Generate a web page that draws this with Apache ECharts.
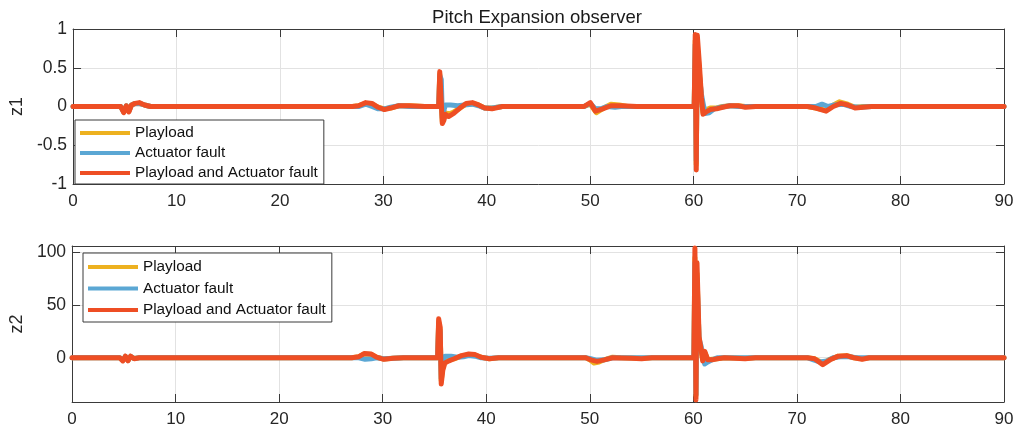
<!DOCTYPE html>
<html>
<head>
<meta charset="utf-8">
<script src="https://cdn.jsdelivr.net/npm/echarts@6/dist/echarts.min.js"></script>
<style>
  html, body { margin: 0; padding: 0; background: #fff; }
  #chart { width: 1017px; height: 429px; }
</style>
</head>
<body>
<div id="chart"></div>
<script>
// Pitch expansion observer outputs z1 and z2 under three fault scenarios
const seriesNames = ['Playload', 'Actuator fault', 'Playload and Actuator fault'];
const seriesColors = ['#EDB120', '#5BA7D4', '#EE4E24'];
const timeRange = [0, 90];
const timeStep = 10;
const z1Range = [-1, 1];
const z1Step = 0.5;
const z2Range = [-42, 106];
const z2Ticks = [0, 50, 100];

// z1 samples: [time (s), value]
const z1Payload = [[0,0],[4.6,0],[4.9,-0.07],[5.15,0.01],[5.4,-0.06],[5.65,0.02],[6.0,0.04],[6.4,0.04],[6.9,0.02],[7.5,0],[27,0],[27.6,0.01],[28.3,0.04],[28.9,0.03],[29.5,-0.01],[30.1,-0.03],[30.7,-0.02],[31.5,0.01],[32.5,0.01],[34,0],[35.35,0],[35.45,0.42],[35.6,0.4],[35.7,-0.2],[35.85,-0.15],[36.0,-0.08],[36.3,-0.1],[36.8,-0.07],[37.4,-0.02],[38.0,0.03],[38.6,0.04],[39.2,0.02],[39.8,-0.02],[40.5,-0.02],[41.5,0],[44,0],[47,0],[49.4,0],[50.0,0.03],[50.6,-0.08],[51.3,-0.02],[52,0.03],[52.8,0.02],[53.6,0],[54.5,0],[58,0],[60.05,0],[60.15,0.85],[60.25,-0.75],[60.35,0.8],[60.55,0.45],[60.75,0.1],[60.9,-0.08],[61.2,-0.05],[61.6,-0.02],[62.2,-0.02],[62.8,0],[63.5,0.01],[64.3,0.01],[65,0],[66,0],[71,0],[71.8,-0.02],[72.8,-0.05],[73.5,0.02],[74.1,0.06],[74.9,0.03],[75.6,-0.01],[76.4,0],[77.2,0],[90,0]];
const z1Actuator = [[0,0],[4.6,0],[4.9,-0.07],[5.15,0.01],[5.4,-0.06],[5.65,0.02],[6.0,0.04],[6.4,0.04],[6.9,0.02],[7.5,0],[27,0],[27.6,0],[28.3,0.03],[28.9,0],[29.5,-0.03],[30.1,-0.03],[30.7,-0.01],[31.5,0.01],[32.5,0],[34,0],[35.35,0],[35.45,0.4],[35.6,0.35],[35.7,-0.15],[35.85,-0.05],[36.0,0.02],[36.5,0.02],[37.2,0.01],[37.8,0.02],[38.6,0.03],[39.2,0.01],[39.8,-0.02],[40.5,-0.02],[41.5,0],[44,0],[47,0],[49.4,0],[50.0,0.04],[50.5,-0.03],[51.0,-0.03],[51.6,0],[52.4,-0.01],[53,0],[54.5,0],[58,0],[60.05,0],[60.15,0.8],[60.25,-0.7],[60.35,0.75],[60.55,0.4],[60.75,0.16],[60.9,0.05],[61.1,-0.09],[61.5,-0.08],[62.0,-0.03],[62.6,-0.01],[63.5,0.01],[64.3,0],[65,0],[66,0],[71,0],[71.8,0],[72.4,0.03],[73.0,0],[73.6,0.02],[74.4,0.03],[75.2,0],[76,-0.01],[77.2,0],[90,0]];
const z1Both = [[0,0],[4.6,0],[4.9,-0.08],[5.15,0.01],[5.4,-0.07],[5.65,0.02],[6.0,0.04],[6.4,0.05],[6.9,0.02],[7.5,0],[27,0],[27.6,0.01],[28.3,0.05],[28.9,0.04],[29.5,-0.01],[30.1,-0.04],[30.7,-0.02],[31.5,0.01],[32.5,0.01],[34,0],[35.35,0],[35.45,0.45],[35.6,0.43],[35.7,-0.22],[35.85,-0.18],[36.0,-0.1],[36.3,-0.13],[36.8,-0.09],[37.4,-0.02],[38.0,0.04],[38.6,0.05],[39.2,0.02],[39.8,-0.02],[40.5,-0.03],[41.5,0],[44,0],[47,0],[49.4,0],[50.0,0.05],[50.5,-0.06],[51.2,-0.03],[52,0.01],[53,0.01],[54.5,0],[58,0],[60.05,0],[60.15,0.93],[60.25,-0.82],[60.35,0.92],[60.55,0.55],[60.75,0.12],[60.9,-0.1],[61.2,-0.07],[61.6,-0.04],[62.2,-0.03],[62.8,-0.01],[63.5,0.01],[64.3,0.01],[65,-0.01],[66,0],[71,0],[71.8,-0.02],[72.8,-0.06],[73.5,0],[74.2,0.04],[74.9,0.02],[75.6,-0.02],[76.4,-0.01],[77.2,0],[90,0]];

// z2 samples: [time (s), value]
const z2Payload = [[0,0],[4.6,0],[4.9,-2.5],[5.15,1.2],[5.4,-2.5],[5.65,1.2],[6.0,-0.8],[6.5,0],[27,0],[27.7,1],[28.2,3.5],[28.9,3],[29.4,0.5],[30.1,-1.2],[31,-0.5],[32,0],[35.3,0],[35.4,34],[35.55,26],[35.65,-22],[35.8,-9],[36.0,-4],[36.4,-2],[36.9,-1],[37.6,1.5],[38.3,3],[38.9,2.5],[39.5,0.5],[40.3,-1],[41.2,0],[44,0],[49.6,0],[50.0,-2],[50.4,-5],[50.9,-4],[51.5,-1.5],[52.2,0.5],[53,0],[55,-0.5],[56,0],[60.05,0],[60.15,95],[60.25,-36],[60.35,80],[60.55,16],[60.75,6],[60.9,-2],[61.1,5],[61.4,-2],[61.8,-1.5],[62.3,-1],[63,0],[65,-0.5],[66,0],[71,0],[71.7,-1],[72.5,-5],[73.2,-1.5],[74,1.5],[74.8,2],[75.5,0],[76.3,-1],[77,0],[90,0]];
const z2Actuator = [[0,0],[4.6,0],[4.9,-2.5],[5.15,1.2],[5.4,-2.5],[5.65,1.2],[6.0,-0.8],[6.5,0],[27,0],[27.7,0],[28.3,-1.5],[28.9,-1],[29.4,0],[30.1,-1],[31,-0.5],[32,0],[35.3,0],[35.4,32],[35.55,24],[35.65,-20],[35.8,-4],[36.0,1.5],[36.6,1.5],[37.2,0.5],[37.8,1],[38.3,2],[38.9,1.5],[39.5,0],[40.3,-0.5],[41.2,0],[44,0],[49.6,0],[50.1,-1],[50.7,-2.5],[51.4,-2],[52.2,0],[54,0],[56,0],[60.05,0],[60.15,90],[60.25,-35],[60.35,75],[60.55,18],[60.75,11],[60.9,2],[61.1,-6],[61.4,-4],[61.8,-2],[62.3,0],[63,0],[65,0],[66,0],[71,0],[71.6,-2],[72.2,-4],[72.9,-3],[73.5,0],[74.2,1],[75,1],[75.8,0],[77,0],[90,0]];
const z2Both = [[0,0],[4.6,0],[4.9,-3],[5.15,1.5],[5.4,-3],[5.65,1.5],[6.0,-1],[6.5,0],[27,0],[27.7,1],[28.2,4],[28.9,3.5],[29.4,0.5],[30.1,-1.5],[31,-0.5],[32,0],[35.3,0],[35.4,37],[35.55,29],[35.65,-25],[35.8,-12],[36.0,-5],[36.4,-3],[36.9,-1],[37.6,2],[38.3,3.5],[38.9,3],[39.5,0.5],[40.3,-1],[41.2,0],[44,0],[49.6,0],[50.1,-2],[50.7,-3.5],[51.4,-2],[52.2,0],[54,-0.5],[55,-1],[56,0],[60.05,0],[60.15,104],[60.25,-40],[60.35,90],[60.55,20],[60.75,8],[60.9,-3],[61.1,6],[61.4,-2],[61.8,-2],[62.3,-1],[63,0],[65,-1],[66,0],[71,0],[71.7,-1],[72.5,-6.5],[73.2,-2],[74,1.5],[74.8,2],[75.5,0],[76.3,-1.5],[77,0],[90,0]];

const panelData = [
  [z1Payload, z1Actuator, z1Both],
  [z2Payload, z2Actuator, z2Both]
];

const FONT = '"Liberation Sans", Arial, Helvetica, sans-serif';
const INK = '#262626';
const BOX = '#3a3a3a';
const GRID_LINE = '#e2e2e2';

const grids = [
  { left: 69, right: 13, top: 29, height: 155 },
  { left: 69, right: 13, top: 246, height: 156 }
];

function timeAxis(gridIndex, position) {
  const isMain = position === 'bottom';
  return {
    type: 'value', gridIndex, position,
    min: timeRange[0], max: timeRange[1], interval: timeStep,
    axisLine: { show: true, onZero: false, lineStyle: { color: BOX, width: 1 } },
    axisTick: { show: true, inside: true, length: 8, lineStyle: { color: BOX } },
    axisLabel: { show: isMain, fontSize: 17, color: INK, margin: 9, fontFamily: FONT },
    splitLine: { show: isMain, lineStyle: { color: GRID_LINE, width: 1 } }
  };
}

function valueAxis(gridIndex, position, range, tickOpts, name) {
  const isMain = position === 'left';
  const axis = {
    type: 'value', gridIndex, position,
    min: range[0], max: range[1],
    axisLine: { show: true, onZero: false, lineStyle: { color: BOX, width: 1 } },
    axisTick: Object.assign({ show: true, inside: true, length: 8, lineStyle: { color: BOX } }, tickOpts.tick || {}),
    axisLabel: Object.assign({ show: isMain, fontSize: 17.5, color: INK, margin: 6, fontFamily: FONT }, tickOpts.label || {}),
    splitLine: { show: isMain, lineStyle: { color: GRID_LINE, width: 1 } }
  };
  if (tickOpts.interval !== undefined) axis.interval = tickOpts.interval;
  if (isMain) {
    axis.name = name;
    axis.nameLocation = 'middle';
    axis.nameGap = 35;
    axis.nameTextStyle = { fontSize: 18, color: INK, fontFamily: FONT };
  }
  return axis;
}

const z1TickOpts = { interval: z1Step };
const z2TickOpts = { tick: { customValues: z2Ticks }, label: { customValues: z2Ticks } };

const series = [];
panelData.forEach((lines, p) => {
  lines.forEach((pts, i) => {
    series.push({
      name: seriesNames[i],
      type: 'line',
      xAxisIndex: p * 2,
      yAxisIndex: p * 2,
      data: pts,
      symbol: 'none',
      animation: false,
      lineStyle: { color: seriesColors[i], width: 5, join: 'round', cap: 'round' },
      itemStyle: { color: seriesColors[i] },
      z: 2 + i
    });
  });
});

function legendBox(left, top, gap, padding) {
  return {
    orient: 'vertical', left, top,
    data: seriesNames,
    icon: 'rect', itemWidth: 50, itemHeight: 4, itemGap: gap,
    padding,
    backgroundColor: '#ffffff',
    borderColor: BOX, borderWidth: 1,
    selectedMode: false,
    textStyle: { fontSize: 15.3, color: '#111', fontFamily: FONT, lineHeight: 16, padding: [0, 0, 0, 0] },
    z: 10
  };
}

const chart = echarts.init(document.getElementById('chart'), null, { renderer: 'canvas' });
chart.setOption({
  backgroundColor: '#ffffff',
  animation: false,
  textStyle: { fontFamily: FONT },
  title: {
    text: 'Pitch Expansion observer',
    left: 537, top: 8, textAlign: 'center', padding: 0,
    textStyle: { fontSize: 18.5, fontWeight: 'normal', color: '#1a1a1a', fontFamily: FONT }
  },
  grid: grids.map(g => Object.assign({ show: false, containLabel: false }, g)),
  legend: [
    legendBox(75, 120, 4, [5, 6, 3, 5]),
    legendBox(83, 253, 5.5, [6, 6, 4, 5])
  ],
  xAxis: [
    timeAxis(0, 'bottom'), timeAxis(0, 'top'),
    timeAxis(1, 'bottom'), timeAxis(1, 'top')
  ],
  yAxis: [
    valueAxis(0, 'left', z1Range, z1TickOpts, 'z1'), valueAxis(0, 'right', z1Range, z1TickOpts),
    valueAxis(1, 'left', z2Range, z2TickOpts, 'z2'), valueAxis(1, 'right', z2Range, z2TickOpts)
  ],
  series
});
</script>
</body>
</html>
